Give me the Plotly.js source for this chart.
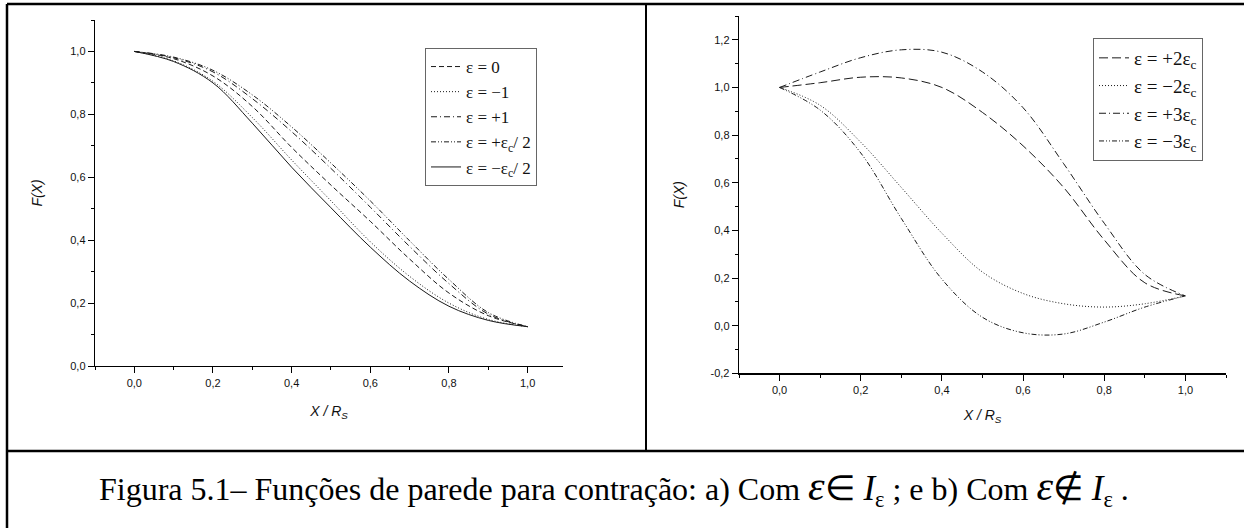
<!DOCTYPE html>
<html>
<head>
<meta charset="utf-8">
<script src="https://cdn.plot.ly/plotly-3.0.1.min.js"></script>
<style>html,body{margin:0;padding:0;background:#fff;}#chart{width:1244px;height:528px;}</style>
</head>
<body>
<div id="chart"></div>
<script>
// ---- Data ----
// Panel a) : epsilon inside I_eps
const xA = [0, 0.1, 0.2, 0.3, 0.4, 0.5, 0.6, 0.7, 0.8, 0.9, 1.0];
const fEps0   = [1.0, 0.977, 0.922, 0.825, 0.695, 0.575, 0.46, 0.34, 0.232, 0.16, 0.125];
const fEpsM1  = [1.0, 0.970, 0.905, 0.790, 0.655, 0.525, 0.395, 0.285, 0.200, 0.148, 0.125];
const fEpsP1  = [1.0, 0.980, 0.935, 0.850, 0.745, 0.628, 0.505, 0.380, 0.262, 0.165, 0.125];
const fEpsPc2 = [1.0, 0.982, 0.940, 0.862, 0.760, 0.645, 0.525, 0.398, 0.275, 0.170, 0.125];
const fEpsMc2 = [1.0, 0.968, 0.900, 0.772, 0.632, 0.503, 0.378, 0.270, 0.190, 0.145, 0.125];
const namesA = ['ε = 0', 'ε = −1', 'ε = +1', 'ε = +ε<sub>c</sub>/ 2', 'ε = −ε<sub>c</sub>/ 2'];

// Panel b) : epsilon outside I_eps
const xB = [0, 0.1, 0.2, 0.3, 0.4, 0.5, 0.6, 0.7, 0.8, 0.9, 1.0];
const fP2 = [1.0, 1.020, 1.043, 1.040, 1.000, 0.895, 0.755, 0.580, 0.360, 0.180, 0.125];
const fM2 = [1.0, 0.925, 0.770, 0.580, 0.388, 0.225, 0.135, 0.092, 0.078, 0.092, 0.125];
const fP3 = [1.0, 1.065, 1.125, 1.158, 1.148, 1.065, 0.915, 0.680, 0.430, 0.215, 0.125];
const fM3 = [1.0, 0.905, 0.725, 0.450, 0.195, 0.035, -0.030, -0.035, 0.015, 0.078, 0.125];
const namesB = ['ε = +2ε<sub>c</sub>', 'ε = −2ε<sub>c</sub>', 'ε = +3ε<sub>c</sub>', 'ε = −3ε<sub>c</sub>'];

// Tick labels
const xTickVals = [0, 0.2, 0.4, 0.6, 0.8, 1.0];
const xTickText = ['0,0', '0,2', '0,4', '0,6', '0,8', '1,0'];
const yTickValsA = [0, 0.2, 0.4, 0.6, 0.8, 1.0];
const yTickTextA = ['0,0', '0,2', '0,4', '0,6', '0,8', '1,0'];
const yTickValsB = [-0.2, 0, 0.2, 0.4, 0.6, 0.8, 1.0, 1.2];
const yTickTextB = ['-0,2', '0,0', '0,2', '0,4', '0,6', '0,8', '1,0', '1,2'];

const caption = 'Figura 5.1– Funções de parede para contração: a) Com <span style="font-size:42px"><i>ε</i></span><span style="font-size:35px">∈ <i>I</i></span><sub>ε</sub> ; e b) Com <span style="font-size:42px"><i>ε</i></span><span style="font-size:35px">∉ <i>I</i></span><sub>ε</sub> .';

// ---- Styles ----
const dashA = ['5px,3px', '1px,2px', '6px,3px,1px,3px', '5px,2px,1px,2px,1px,2px', 'solid'];
const dashB = ['9px,4px', '1px,2px', '7px,3px,1px,3px', '5px,2px,1px,2px,1px,2px'];
const lineCol = '#1a1a1a';

const W = 1244, H = 528;
const px = v => v / W;
const py = v => (H - v) / H;

const seriesA = [fEps0, fEpsM1, fEpsP1, fEpsPc2, fEpsMc2];
const seriesB = [fP2, fM2, fP3, fM3];

const traces = [];
seriesA.forEach((ys, i) => traces.push({
  x: xA, y: ys, name: namesA[i], type: 'scatter', mode: 'lines',
  line: {color: lineCol, width: 1, dash: dashA[i], shape: 'spline', smoothing: 1},
  xaxis: 'x', yaxis: 'y', legend: 'legend'
}));
seriesB.forEach((ys, i) => traces.push({
  x: xB, y: ys, name: namesB[i], type: 'scatter', mode: 'lines',
  line: {color: lineCol, width: 1, dash: dashB[i], shape: 'spline', smoothing: 1},
  xaxis: 'x2', yaxis: 'y2', legend: 'legend2'
}));

const tickFont = {family: 'Liberation Sans, Arial, sans-serif', size: 11, color: '#111'};
const titleFont = {family: 'Liberation Sans, Arial, sans-serif', size: 14, color: '#111'};

function mainX(domain, anchor, range, standoff) {
  return {domain, anchor, range, showgrid: false, zeroline: false, showline: true,
    linecolor: '#000', linewidth: 1.3, ticks: 'outside', ticklen: 6, tickwidth: 1, tickcolor: '#000',
    tickvals: xTickVals, ticktext: xTickText, tickfont: tickFont,
    minor: {ticks: 'outside', ticklen: 3, tickwidth: 1, tickcolor: '#000', dtick: 0.1, tick0: 0, showgrid: false},
    title: {text: '<i>X / R<sub>S</sub></i>', font: titleFont, standoff},
    automargin: false, fixedrange: true};
}
function mainY(domain, anchor, range, vals, text, standoff) {
  return {domain, anchor, range, showgrid: false, zeroline: false, showline: true,
    linecolor: '#000', linewidth: 1.3, ticks: 'outside', ticklen: 6, tickwidth: 1, tickcolor: '#000',
    tickvals: vals, ticktext: text, tickfont: tickFont,
    minor: {ticks: 'outside', ticklen: 3, tickwidth: 1, tickcolor: '#000', dtick: 0.1, tick0: 0, showgrid: false},
    title: {text: '<i>F(X)</i>', font: titleFont, standoff},
    automargin: false, fixedrange: true};
}
function mirrorX(overlay, anchor, range) {
  return {overlaying: overlay, anchor, side: 'top', range, showgrid: false, zeroline: false,
    showline: true, linecolor: '#000', linewidth: 1, ticks: 'inside', ticklen: 5, tickcolor: '#000',
    tickvals: xTickVals, showticklabels: false,
    minor: {ticks: 'inside', ticklen: 3, tickcolor: '#000', dtick: 0.1, tick0: 0, showgrid: false},
    automargin: false, fixedrange: true};
}
function mirrorY(overlay, anchor, range, vals) {
  return {overlaying: overlay, anchor, side: 'right', range, showgrid: false, zeroline: false,
    showline: true, linecolor: '#000', linewidth: 1, ticks: 'inside', ticklen: 5, tickcolor: '#000',
    tickvals: vals, showticklabels: false,
    minor: {ticks: 'inside', ticklen: 3, tickcolor: '#000', dtick: 0.1, tick0: 0, showgrid: false},
    automargin: false, fixedrange: true};
}

const domXA = [px(95), px(563)], domYA = [py(366), py(20)];
const domXB = [px(739), px(1226)], domYB = [py(373.3), py(16)];
const rXA = [-0.1, 1.09], rYA = [0, 1.1];
const rXB = [-0.1, 1.1], rYB = [-0.2, 1.3];

const legendFont = {family: 'Liberation Serif, Times New Roman, serif', size: 17, color: '#111'};

const layout = {
  width: W, height: H,
  margin: {l: 0, r: 0, t: 0, b: 0},
  paper_bgcolor: '#fff', plot_bgcolor: '#fff',
  showlegend: true,
  xaxis: mainX(domXA, 'y', rXA, 18),
  yaxis: mainY(domYA, 'x', rYA, yTickValsA, yTickTextA, 24),
  xaxis2: mainX(domXB, 'y2', rXB, 15),
  yaxis2: mainY(domYB, 'x2', rYB, yTickValsB, yTickTextB, 22),
  xaxis3: mirrorX('x', 'y', rXA),
  yaxis3: mirrorY('y', 'x', rYA, yTickValsA),
  xaxis4: mirrorX('x2', 'y2', rXB),
  yaxis4: mirrorY('y2', 'x2', rYB, yTickValsB),
  legend: {x: px(425), y: py(48), xanchor: 'left', yanchor: 'top', xref: 'paper', yref: 'paper',
    bgcolor: '#fff', bordercolor: '#666', borderwidth: 1, font: legendFont, tracegroupgap: 0},
  legend2: {x: px(1093), y: py(38), xanchor: 'left', yanchor: 'top', xref: 'paper', yref: 'paper',
    bgcolor: '#fff', bordercolor: '#666', borderwidth: 1,
    font: Object.assign({}, legendFont, {size: 19}), tracegroupgap: 0},
  shapes: [
    {type: 'line', xref: 'paper', yref: 'paper', x0: px(7), x1: 1, y0: py(4), y1: py(4), line: {color: '#000', width: 2.5}},
    {type: 'line', xref: 'paper', yref: 'paper', x0: px(7), x1: px(7), y0: py(4), y1: 0, line: {color: '#000', width: 2.5}},
    {type: 'line', xref: 'paper', yref: 'paper', x0: px(646), x1: px(646), y0: py(4), y1: py(451), line: {color: '#000', width: 2}},
    {type: 'line', xref: 'paper', yref: 'paper', x0: px(7), x1: 1, y0: py(451), y1: py(451), line: {color: '#000', width: 2.5}}
  ],
  annotations: [
    {xref: 'paper', yref: 'paper', x: px(614), y: py(487), xanchor: 'center', yanchor: 'middle',
     text: caption, showarrow: false,
     font: {family: 'Liberation Serif, Times New Roman, serif', size: 32, color: '#000'}}
  ]
};

Plotly.newPlot('chart', traces, layout, {displayModeBar: false, staticPlot: true});
</script>
</body>
</html>
